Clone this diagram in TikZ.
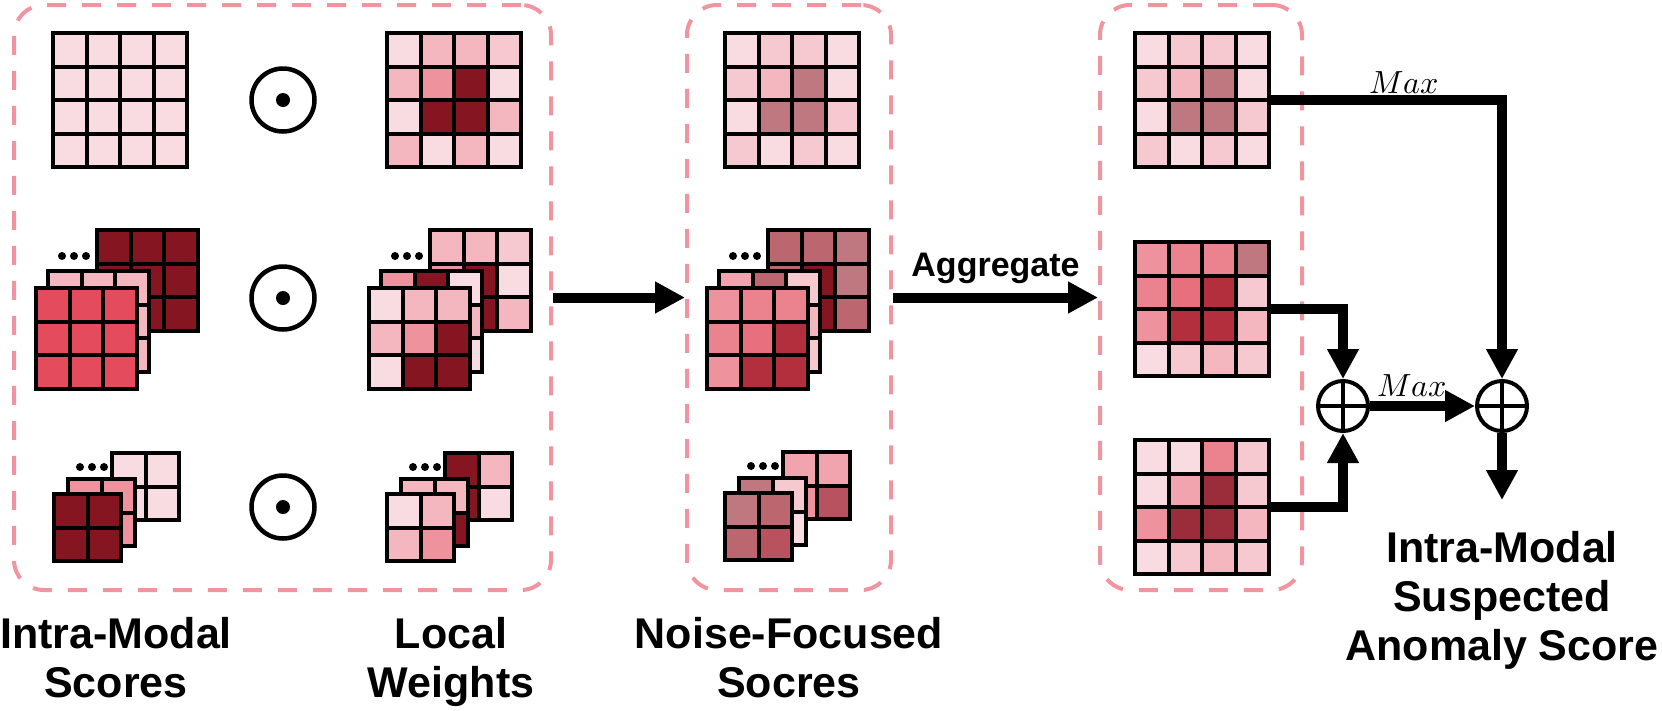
\documentclass[tikz,border=0pt]{standalone}
\usepackage{fontspec}
\usepackage{unicode-math}
\setmainfont{Liberation Sans}
\usetikzlibrary{arrows.meta}

\definecolor{boxpink}{HTML}{F0949F}
\definecolor{pkA}{HTML}{F9DCE1}
\definecolor{pkB}{HTML}{F6C8D0}
\definecolor{pkC}{HTML}{F4B6BF}
\definecolor{pkD}{HTML}{F1A4AD}
\definecolor{pkE}{HTML}{EE939E}
\definecolor{pkF}{HTML}{EB838E}
\definecolor{pkG}{HTML}{E86F7D}
\definecolor{pkH}{HTML}{E44C5E}
\definecolor{pkI}{HTML}{B42F3E}
\definecolor{pkJ}{HTML}{9B2C3A}
\definecolor{pkK}{HTML}{861522}
\definecolor{mvA}{HTML}{BF7880}
\definecolor{mvB}{HTML}{BC6670}
\definecolor{mvC}{HTML}{B8525F}

\newcommand{\cellsz}{33.5}

% #1 name, #2 #3 top left corner, #4 cells per side, #5 colours row by row
\newcommand{\heatgrid}[5]{%
  \foreach \col [count=\k from 0] in {#5} {
    \pgfmathtruncatemacro{\rw}{\k/#4}
    \pgfmathtruncatemacro{\cl}{\k-\rw*#4}
    \filldraw[cellbox, fill=\col] ({#2+\cl*\cellsz},{#3+\rw*\cellsz}) rectangle ++(\cellsz,\cellsz);
  }
  \node[gridnode, minimum size={#4*\cellsz*1pt}] (#1) at ({#2+#4*\cellsz/2},{#3+#4*\cellsz/2}) {};
}

% #1 name, #2 #3 top left of front layer, #4 cells per side, #5 back, #6 middle, #7 front
\newcommand{\gridstack}[7]{%
  \ifnum#4=3 \def\mx{12}\def\my{-17}\def\bx{61}\def\by{-58}\def\dy{26}\def\dl{35}%
  \else \def\mx{14}\def\my{-15}\def\bx{58}\def\by{-41}\def\dy{14}\def\dl{32}\fi
  \heatgrid{#1b}{#2+\bx}{#3+\by}{#4}{#5}
  \foreach \i in {0,1,2} \fill ({#2+\bx-\dl+12*\i},{#3+\by+\dy}) circle (4pt);
  \heatgrid{#1m}{#2+\mx}{#3+\my}{#4}{#6}
  \heatgrid{#1}{#2}{#3}{#4}{#7}
}

\begin{document}
\begin{tikzpicture}[x=1pt, y=-1pt,
    cellbox/.style={draw=black, line width=4pt},
    gridnode/.style={inner sep=0pt, outer sep=0pt},
    dashbox/.style={draw=boxpink, line width=4pt, dash pattern=on 19pt off 16pt, rounded corners=30pt, inner sep=0pt},
    odot/.style={circle, draw, line width=4.5pt, minimum size=63pt, inner sep=0pt,
        path picture={\fill (path picture bounding box.center) circle (7pt);}},
    oplus/.style={circle, draw, line width=4pt, minimum size=50pt, inner sep=0pt,
        path picture={\draw[line width=4pt] (path picture bounding box.north) -- (path picture bounding box.south)
            (path picture bounding box.west) -- (path picture bounding box.east);}},
    flow/.style={line width=10pt, -{Triangle[length=30pt,width=30pt]}},
    heading/.style={font=\fontsize{43}{49}\selectfont\bfseries, align=center, inner sep=0pt},
    aggfont/.style={font=\fontsize{34}{40}\selectfont\bfseries, inner sep=0pt},
    maxfont/.style={font=\fontsize{32}{32}\selectfont, inner sep=0pt}
  ]
    \useasboundingbox (0,0) rectangle (1662,710);

    % Define the dashed groups
    \node[dashbox, minimum width=537pt, minimum height=585pt] (box1) at (282.5,297.5) {};
    \node[dashbox, minimum width=204pt, minimum height=585pt] (box2) at (789,297.5) {};
    \node[dashbox, minimum width=202pt, minimum height=585pt] (box3) at (1201,297.5) {};

    % Scores times local weights
    \heatgrid{scoreA}{53}{33}{4}{pkA,pkA,pkA,pkA,pkA,pkA,pkA,pkA,pkA,pkA,pkA,pkA,pkA,pkA,pkA,pkA}
    \node[odot] (odot1) at (283,100) {};
    \heatgrid{weightA}{387}{33}{4}{pkA,pkC,pkC,pkB,pkC,pkE,pkK,pkA,pkA,pkK,pkK,pkC,pkC,pkA,pkC,pkA}

    \gridstack{scoreB}{36}{288}{3}{pkK,pkK,pkK,pkK,pkK,pkK,pkK,pkK,pkK}{pkC,pkC,pkC,pkC,pkC,pkC,pkC,pkC,pkC}{pkH,pkH,pkH,pkH,pkH,pkH,pkH,pkH,pkH}
    \node[odot] (odot2) at (283,298) {};
    \gridstack{weightB}{369}{288}{3}{pkC,pkC,pkB,pkE,pkK,pkA,pkC,pkK,pkC}{pkE,pkK,pkA,pkC,pkK,pkC,pkA,pkK,pkA}{pkA,pkC,pkC,pkC,pkE,pkK,pkA,pkK,pkK}

    \gridstack{scoreC}{54}{494}{2}{pkA,pkA,pkA,pkA}{pkE,pkE,pkE,pkE}{pkK,pkK,pkK,pkK}
    \node[odot] (odot3) at (283,507) {};
    \gridstack{weightC}{387}{494}{2}{pkK,pkC,pkK,pkA}{pkC,pkC,pkC,pkK}{pkA,pkC,pkC,pkE}

    % Noise-focused scores
    \heatgrid{noiseA}{725}{33}{4}{pkA,pkB,pkB,pkA,pkB,pkC,mvA,pkA,pkA,mvA,mvA,pkB,pkB,pkA,pkB,pkA}
    \gridstack{noiseB}{707}{288}{3}{mvB,mvB,mvA,mvB,pkK,mvA,mvB,pkK,mvB}{pkD,mvB,pkB,pkE,pkK,pkC,pkE,pkK,pkB}{pkE,pkF,pkF,pkF,pkG,pkI,pkE,pkI,pkI}
    \gridstack{noiseC}{725}{493}{2}{pkD,pkD,pkE,mvC}{mvA,pkB,pkE,pkA}{mvA,mvB,mvB,mvC}

    % Aggregated maps
    \heatgrid{mapA}{1135}{33}{4}{pkA,pkB,pkB,pkA,pkB,pkC,mvA,pkA,pkA,mvA,mvA,pkB,pkB,pkA,pkB,pkA}
    \heatgrid{mapB}{1135}{242}{4}{pkE,pkF,pkF,mvA,pkF,pkG,pkI,pkB,pkE,pkI,pkI,pkC,pkA,pkB,pkC,pkB}
    \heatgrid{mapC}{1135}{440}{4}{pkA,pkA,pkF,pkB,pkA,pkD,pkJ,pkB,pkE,pkJ,pkJ,pkC,pkA,pkB,pkC,pkB}

    % Flow between the groups
    \draw[flow] (box1.east) -- (box2.west);
    \draw[flow] (box2.east) -- node[aggfont, anchor=base, yshift=21pt] (aggtext) {Aggregate} (box3.west);

    % Max fusion
    \node[oplus] (op1) at (1343,406) {};
    \node[oplus] (op2) at (1502,406) {};
    \draw[flow] (mapA.east) -| node[maxfont, pos=0.29, anchor=base, yshift=7pt] (maxtop) {$Max$} (op2.north);
    \draw[flow] (mapB.east) -| (op1.north);
    \draw[flow] (mapC.east) -| (op1.south);
    \draw[flow] (op1.east) -- node[maxfont, pos=0.4, anchor=base, yshift=10pt] (maxmid) {$Max$} (op2.west);

    % Captions
    \node[heading, anchor=north, outer ysep=31pt] (result) at (1502,500) {Intra-Modal\\Suspected\\Anomaly Score};
    \draw[flow] (op2.south) -- (result.north);
    \node[heading, anchor=north] (scoretext) at (116,617) {Intra-Modal\\Scores};
    \node[heading, anchor=north] (weighttext) at (451,617) {Local\\Weights};
    \node[heading, anchor=north] (noisetext) at (789,617) {Noise-Focused\\Socres};
\end{tikzpicture}
\end{document}
